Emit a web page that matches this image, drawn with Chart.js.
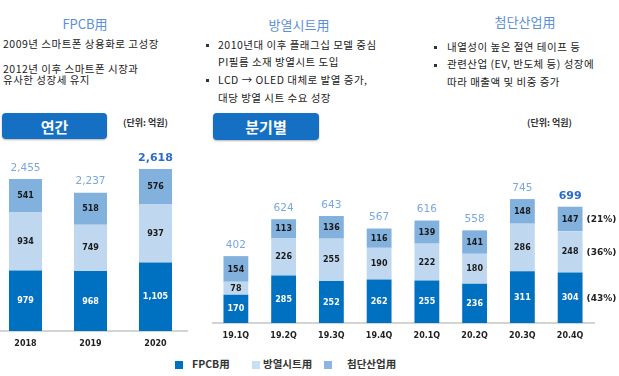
<!DOCTYPE html>
<html>
<head>
<meta charset="utf-8">
<script src="https://cdn.jsdelivr.net/npm/chart.js@4"></script>
<style>
  body { margin: 0; width: 619px; height: 376px; background: #fff; position: relative; overflow: hidden;
         font-family: "Noto Sans CJK KR", "Noto Sans", sans-serif; color: #222; }
  .abs { position: absolute; white-space: nowrap; }
  .head { color: #5b8fd9; font-size: 13px; transform: translateX(-50%); line-height: 1; }
  .txt { font-size: 10.5px; line-height: 1; letter-spacing: 0.5px; }
  .btn { background: #1570c4; border-radius: 4px; color: #fff; font-weight: bold; font-size: 15px;
         display: flex; align-items: center; justify-content: center; box-shadow: 0 1px 2px rgba(0,0,0,0.3); }
  .unit { font-size: 9px; font-weight: bold; color: #333; line-height: 1; }
  .bul { width: 3px; height: 3px; background: #333; }
  .sq { width: 8px; height: 8px; }
  .leg { font-size: 10.5px; font-weight: bold; color: #333; line-height: 1; }
  canvas { position: absolute; }
</style>
</head>
<body>
<div class="abs head" style="left:85px; top:17px;">FPCB用</div>
<div class="abs head" style="left:299px; top:18px;">방열시트用</div>
<div class="abs head" style="left:525px; top:15px;">첨단산업用</div>

<div class="abs txt" style="left:3px; top:39px;">2009년 스마트폰 상용화로 고성장</div>
<div class="abs txt" style="left:3px; top:64px;">2012년 이후 스마트폰 시장과</div>
<div class="abs txt" style="left:3px; top:75px;">유사한 성장세 유지</div>

<div class="abs bul" style="left:206px; top:44px;"></div>
<div class="abs txt" style="left:218px; top:40px;">2010년대 이후 플래그십 모델 중심</div>
<div class="abs txt" style="left:218px; top:57px;">PI필름 소재 방열시트 도입</div>
<div class="abs bul" style="left:206px; top:79px;"></div>
<div class="abs txt" style="left:218px; top:75px;">LCD → OLED 대체로 발열 증가,</div>
<div class="abs txt" style="left:218px; top:93px;">대당 방열 시트 수요 성장</div>

<div class="abs bul" style="left:434px; top:46px;"></div>
<div class="abs txt" style="left:447px; top:42px;">내열성이 높은 절연 테이프 등</div>
<div class="abs bul" style="left:434px; top:64px;"></div>
<div class="abs txt" style="left:447px; top:59px;">관련산업 (EV, 반도체 등) 성장에</div>
<div class="abs txt" style="left:447px; top:77px;">따라 매출액 및 비중 증가</div>

<div class="abs btn" style="left:2px; top:113px; width:105px; height:26px;">연간</div>
<div class="abs unit" style="left:123px; top:118px;">(단위: 억원)</div>
<div class="abs btn" style="left:213px; top:113px; width:106px; height:27px;">분기별</div>
<div class="abs unit" style="left:527px; top:118px;">(단위: 억원)</div>

<canvas id="annual" width="195" height="215" style="left:-7px; top:140px;"></canvas>
<canvas id="quarter" width="407" height="207" style="left:212px; top:140px;"></canvas>

<div class="abs sq" style="left:175px; top:361px; background:#0070c0;"></div>
<div class="abs leg" style="left:192px; top:359px;">FPCB用</div>
<div class="abs sq" style="left:252px; top:361px; background:#c6e1f6;"></div>
<div class="abs leg" style="left:263px; top:359px;">방열시트用</div>
<div class="abs sq" style="left:324px; top:361px; background:#8fb3e2;"></div>
<div class="abs leg" style="left:347px; top:359px;">첨단산업用</div>

<script>
// annual (억원)
const years = ['2018', '2019', '2020'];
const yearFpcb = [979, 968, 1105];
const yearSheet = [934, 749, 937];
const yearHitech = [541, 518, 576];
const yearTotals = ['2,455', '2,237', '2,618'];

// quarterly (억원)
const quarters = ['19.1Q', '19.2Q', '19.3Q', '19.4Q', '20.1Q', '20.2Q', '20.3Q', '20.4Q'];
const qFpcb = [170, 285, 252, 262, 255, 236, 311, 304];
const qSheet = [78, 226, 255, 190, 222, 180, 286, 248];
const qHitech = [154, 113, 136, 116, 139, 141, 148, 147];
const qTotals = ['402', '624', '643', '567', '616', '558', '745', '699'];
const lastShares = ['(43%)', '(36%)', '(21%)'];

const C_FPCB = '#0070c0';
const C_SHEET = '#bfd8ef';
const C_HITECH = '#82b1de';
const NUMFONT = '"DejaVu Sans", sans-serif';

// writes segment values, totals and (optionally) share labels
function labelPlugin(totals, shares) {
  return {
    id: 'labels',
    afterDatasetsDraw(chart) {
      const ctx = chart.ctx;
      ctx.save();
      ctx.textAlign = 'center';
      ctx.textBaseline = 'middle';
      chart.data.datasets.forEach((ds, di) => {
        const meta = chart.getDatasetMeta(di);
        meta.data.forEach((bar, i) => {
          ctx.font = 'bold 8px ' + NUMFONT;
          ctx.fillStyle = di === 0 ? '#ffffff' : '#1a1a1a';
          const y = (bar.y + bar.base) / 2;
          ctx.fillText(ds.data[i].toLocaleString('en-US'), bar.x, y + 0.5);
          if (shares && i === meta.data.length - 1) {
            ctx.textAlign = 'left';
            ctx.font = 'bold 9px ' + NUMFONT;
            ctx.fillStyle = '#222';
            ctx.fillText(shares[di], bar.x + bar.width / 2 + 4, y + 0.5);
            ctx.textAlign = 'center';
          }
        });
      });
      const top = chart.getDatasetMeta(chart.data.datasets.length - 1);
      top.data.forEach((bar, i) => {
        const last = i === top.data.length - 1;
        ctx.font = (last ? 'bold 11px ' : '10.5px ') + NUMFONT;
        ctx.fillStyle = last ? '#2b6cc8' : '#7aa6e2';
        ctx.fillText(totals[i], bar.x, bar.y - 11);
      });
      ctx.restore();
    }
  };
}

function makeChart(id, labels, fpcb, sheet, hitech, totals, shares, yMax, barPct, padRight) {
  const ctx = document.getElementById(id).getContext('2d');
  return new Chart(ctx, {
    type: 'bar',
    data: {
      labels: labels,
      datasets: [
        { label: 'FPCB用', data: fpcb, backgroundColor: C_FPCB },
        { label: '방열시트用', data: sheet, backgroundColor: C_SHEET },
        { label: '첨단산업用', data: hitech, backgroundColor: C_HITECH },
      ],
    },
    options: {
      responsive: false,
      devicePixelRatio: 1,
      animation: false,
      layout: { padding: { left: 0, right: padRight, top: 0, bottom: 0 } },
      datasets: { bar: { categoryPercentage: 1, barPercentage: barPct } },
      scales: {
        x: {
          stacked: true,
          grid: { display: false, drawTicks: false },
          border: { display: true, color: '#d4d4d4', width: 2 },
          ticks: { color: '#222', font: { family: NUMFONT, size: 8, weight: 'bold' }, padding: 8, maxRotation: 0 },
          afterFit: (s) => { s.height = 24; },
        },
        y: { stacked: true, display: false, min: 0, max: yMax },
      },
      plugins: { legend: { display: false }, tooltip: { enabled: false } },
    },
    plugins: [labelPlugin(totals, shares)],
  });
}

makeChart('annual', years, yearFpcb, yearSheet, yearHitech, yearTotals, null, 3086, 0.508, 0);
makeChart('quarter', quarters, qFpcb, qSheet, qHitech, qTotals, lastShares, 1100, 0.52, 25);
</script>
</body>
</html>
